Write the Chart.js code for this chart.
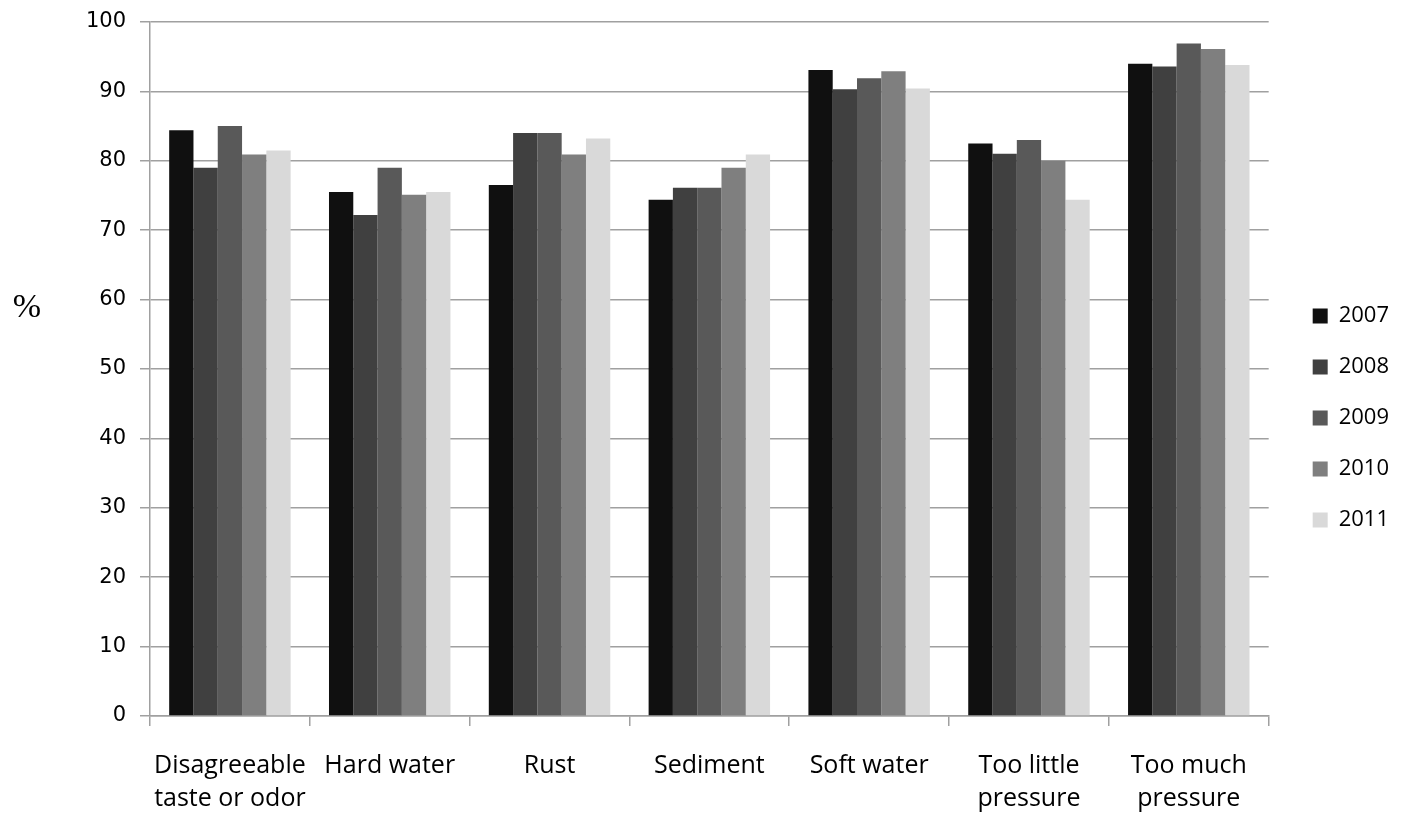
<!DOCTYPE html>
<html>
<head>
<meta charset="utf-8">
<script src="https://cdn.jsdelivr.net/npm/chart.js@4"></script>
<style>
  body { margin: 0; background: #fff; }
  #wrap { width: 1404px; height: 816px; position: relative; }
</style>
</head>
<body>
<div id="wrap"><canvas id="chart"></canvas></div>
<script>
// Categories and yearly values (% of respondents)
const categories = [
    ['Disagreeable', 'taste or odor'],
    'Hard water',
    'Rust',
    'Sediment',
    'Soft water',
    ['Too little', 'pressure'],
    ['Too much', 'pressure']
];
const years = ['2007', '2008', '2009', '2010', '2011'];
const values2007 = [84.4, 75.5, 76.5, 74.4, 93.1, 82.5, 94.0];
const values2008 = [79.0, 72.2, 84.0, 76.1, 90.3, 81.0, 93.6];
const values2009 = [85.0, 79.0, 84.0, 76.1, 91.9, 83.0, 96.9];
const values2010 = [80.9, 75.1, 80.9, 79.0, 92.9, 80.0, 96.1];
const values2011 = [81.5, 75.5, 83.2, 80.9, 90.4, 74.4, 93.8];
const yTicks = [0, 10, 20, 30, 40, 50, 60, 70, 80, 90, 100];

const seriesValues = [values2007, values2008, values2009, values2010, values2011];
const colors = ['#101010', '#404040', '#595959', '#7f7f7f', '#d9d9d9'];
const gridGray = '#a0a0a0';

// draws the unrotated "%" axis title at the left
const percentLabel = {
    id: 'percentLabel',
    afterDraw(chart) {
        const ctx = chart.ctx;
        const y = chart.scales.y.getPixelForValue(58.8);
        ctx.save();
        ctx.font = '34px "Liberation Serif"';
        ctx.fillStyle = '#000';
        ctx.textAlign = 'center';
        ctx.textBaseline = 'middle';
        ctx.fillText('%', 27, y);
        ctx.restore();
    }
};

const ctx = document.getElementById('chart').getContext('2d');
new Chart(ctx, {
    type: 'bar',
    data: {
        labels: categories,
        datasets: years.map((yr, i) => ({
            label: yr,
            data: seriesValues[i],
            backgroundColor: colors[i],
            borderWidth: 0,
            categoryPercentage: 0.76,
            barPercentage: 1.0
        }))
    },
    options: {
        responsive: true,
        maintainAspectRatio: false,
        animation: false,
        layout: { padding: { left: 70, top: 3, right: 5, bottom: 0 } },
        plugins: {
            legend: {
                position: 'right',
                title: { display: true, text: ' ', padding: 0, font: { size: 14 } },
                labels: {
                    boxWidth: 15,
                    boxHeight: 15,
                    padding: 29,
                    color: '#000',
                    font: { family: '"Open Sans"', size: 22 }
                }
            },
            tooltip: { enabled: false }
        },
        scales: {
            x: {
                afterFit(scale) { scale.height = 100; },
                grid: {
                    display: true,
                    drawOnChartArea: false,
                    offset: true,
                    color: gridGray,
                    tickLength: 10,
                    lineWidth: 1.5
                },
                border: { color: gridGray, width: 1.5 },
                ticks: {
                    color: '#000',
                    maxRotation: 0,
                    autoSkip: false,
                    padding: 23,
                    font: { family: '"Open Sans"', size: 25, lineHeight: 1.32 }
                }
            },
            y: {
                min: 0,
                max: 100,
                afterBuildTicks(scale) {
                    scale.ticks = yTicks.map(v => ({ value: v }));
                },
                afterFit(scale) {
                    scale.width = 80;
                    scale.paddingTop = 22;
                },
                grid: {
                    color: gridGray,
                    tickLength: 10,
                    lineWidth: 1.5
                },
                border: { color: gridGray, width: 1.5 },
                ticks: {
                    color: '#000',
                    padding: 14,
                    font: { family: '"DejaVu Sans"', size: 21 }
                }
            },
            // empty spacer on the right to leave room before the legend
            gap: {
                position: 'right',
                display: true,
                grid: { display: false },
                border: { display: false },
                ticks: { display: false },
                afterFit(scale) { scale.width = 15; }
            }
        }
    },
    plugins: [percentLabel]
});
</script>
</body>
</html>
